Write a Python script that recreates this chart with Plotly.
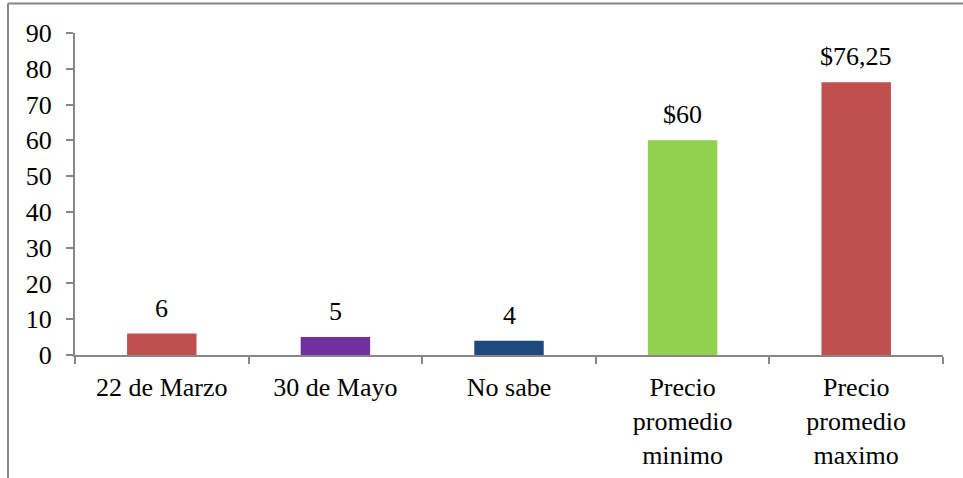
import plotly.graph_objects as go

categories = ["22 de Marzo", "30 de Mayo", "No sabe",
              "Precio<br>promedio<br>minimo", "Precio<br>promedio<br>maximo"]
values = [6, 5, 4, 60, 76.25]
value_labels = ["6", "5", "4", "$60", "$76,25"]
bar_colors = ["#C0504D", "#7030A0", "#1F497D", "#92D050", "#C0504D"]
y_ticks = [0, 10, 20, 30, 40, 50, 60, 70, 80, 90]

FONT = "Liberation Serif"
GRAY = "#878787"

fig = go.Figure(go.Bar(
    x=categories,
    y=values,
    marker=dict(color=bar_colors, line=dict(width=0)),
    width=0.40,
    hoverinfo="skip",
))

for cat, val, lab in zip(categories, values, value_labels):
    fig.add_annotation(
        x=cat, y=val, text=lab, showarrow=False,
        yanchor="bottom", yshift=9,
        font=dict(family=FONT, size=26, color="black"),
    )

# outer frame (left and top edges)
fig.add_shape(type="line", xref="paper", yref="paper",
              x0=-0.0772, x1=-0.0772, y0=1.092, y1=-0.5,
              line=dict(color=GRAY, width=2))
fig.add_shape(type="line", xref="paper", yref="paper",
              x0=-0.0772, x1=1.1, y0=1.092, y1=1.092,
              line=dict(color=GRAY, width=2))

fig.update_layout(
    width=963, height=478,
    margin=dict(l=75, r=20, t=33, b=123, autoexpand=False),
    paper_bgcolor="white", plot_bgcolor="white",
    showlegend=False,
    font=dict(family=FONT, size=26, color="black"),
    xaxis=dict(
        type="category", automargin=False,
        showline=True, linecolor=GRAY, linewidth=2,
        ticks="outside", tickson="boundaries", ticklen=7,
        tickcolor=GRAY, tickwidth=2,
        showgrid=False, zeroline=False,
        tickfont=dict(family=FONT, size=26, color="black"),
        ticklabelstandoff=8,
    ),
    yaxis=dict(
        range=[0, 90], tickvals=y_ticks, automargin=False,
        showline=True, linecolor=GRAY, linewidth=2,
        ticks="outside", ticklen=7, tickcolor=GRAY, tickwidth=2,
        showgrid=False, zeroline=False,
        tickfont=dict(family=FONT, size=26, color="black"),
        ticklabelstandoff=9,
    ),
)

fig.write_html("out.html")
